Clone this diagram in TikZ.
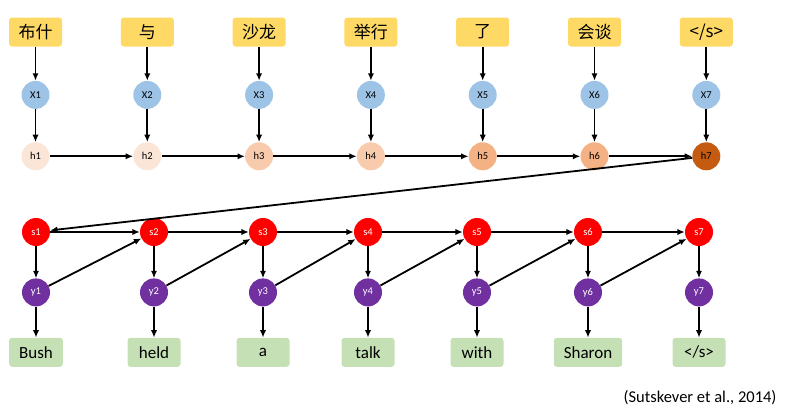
\documentclass[tikz,border=0pt]{standalone}
\usepackage{fontspec}
\setmainfont{Carlito}
\newfontfamily\cjk{Noto Sans CJK SC}
\usepackage{tikz}
\usetikzlibrary{
    positioning,
    arrows.meta
}

\definecolor{srcyellow}{HTML}{FFD966}
\definecolor{tgtgreen}{HTML}{C5E0B4}
\definecolor{xblue}{HTML}{9DC3E6}
\definecolor{sred}{HTML}{FF0000}
\definecolor{ypurple}{HTML}{7030A0}
\definecolor{hlight}{HTML}{FBE5D6}
\definecolor{hmid}{HTML}{F8CBAD}
\definecolor{hdeep}{HTML}{F4B183}
\definecolor{hlast}{HTML}{C55A11}

\begin{document}
\begin{tikzpicture}[
    x=1pt, y=-1pt,
    srcbox/.style={rectangle, fill=srcyellow, rounded corners=3pt, minimum width=53pt, minimum height=29pt, inner xsep=8pt, font=\fontsize{17}{20}\selectfont},
    tgtbox/.style={rectangle, fill=tgtgreen, rounded corners=3pt, minimum width=53pt, minimum height=29pt, inner xsep=10pt, font=\fontsize{17}{20}\selectfont},
    unit/.style={circle, minimum size=28pt, inner sep=0pt, text=black, font=\fontsize{10.5}{12}\selectfont},
    arrow/.style={-{Latex[length=2.6mm, width=2.2mm]}, line width=1.8pt, draw=black}
]
\useasboundingbox (0,0) rectangle (800,415);

% encoder: source words, inputs, hidden states
\foreach \i/\c/\w in {1/hlight/布什, 2/hlight/与, 3/hmid/沙龙, 4/hmid/举行, 5/hdeep/了, 6/hdeep/会谈, 7/hlast/{</s>}} {
    \pgfmathsetmacro\cx{35.5+111.8*(\i-1)}
    \node[srcbox] (w\i) at (\cx,32) {\cjk \w};
    \node[unit, fill=xblue, below=34pt of w\i] (x\i) {X\i};
    \node[unit, fill=\c, below=33pt of x\i] (h\i) {h\i};
    \draw[arrow] (w\i) -- (x\i);
    \draw[arrow] (x\i) -- (h\i);
}

% decoder: states, outputs, target words
\foreach \i/\cx/\w in {1/36/Bush, 2/154/held, 3/263/a, 4/368/talk, 5/477/with, 6/588/Sharon, 7/699/{</s>}} {
    \node[unit, fill=sred, text=white] (s\i) at (\cx,232) {s\i};
    \node[unit, fill=ypurple, text=white, below=32pt of s\i] (y\i) {y\i};
    \node[tgtbox, below=31pt of y\i] (t\i) {\w};
    \draw[arrow] (s\i) -- (y\i);
    \draw[arrow] (y\i) -- (t\i);
}

\foreach \i [evaluate=\i as \j using int(\i+1)] in {1,...,6} {
    \draw[arrow] (h\i) -- (h\j);
    \draw[arrow] (s\i) -- (s\j);
    \draw[arrow] (y\i) -- (s\j);
}
\draw[arrow] (h7) -- (s1);

\node[anchor=east, font=\fontsize{16.5}{19}\selectfont] (cite) at (780,398) {(Sutskever et al., 2014)};
\end{tikzpicture}
\end{document}
